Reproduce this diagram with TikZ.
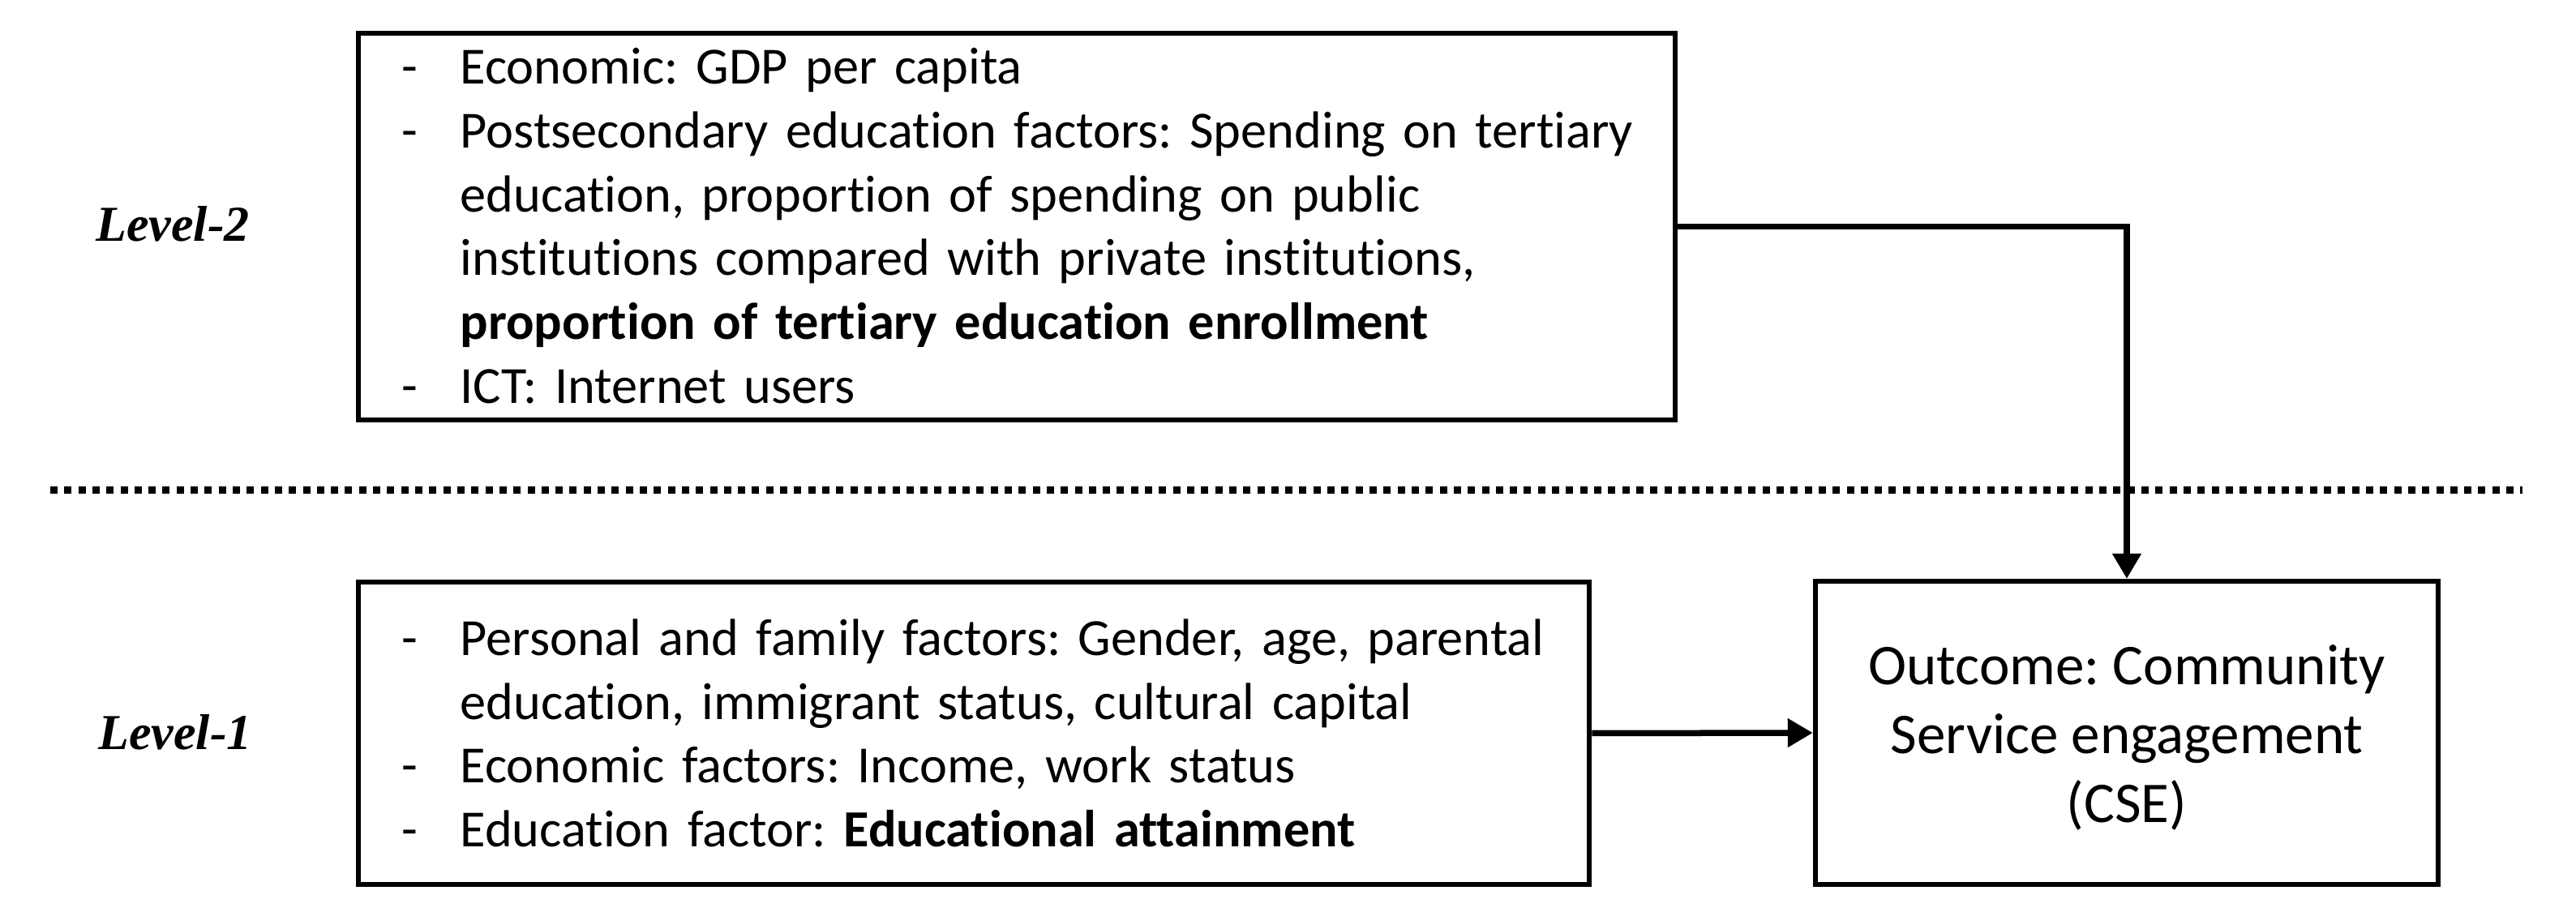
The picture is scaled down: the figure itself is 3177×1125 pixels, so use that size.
\documentclass[tikz,border=0pt]{standalone}
\usepackage{fontspec}
\setmainfont{Carlito}[Ligatures={NoCommon}]
\newfontfamily\levelfamily{Liberation Serif}
\usetikzlibrary{arrows.meta}
\frenchspacing
\hyphenpenalty=10000\relax
\tikzset{
  box/.style={draw=black, line width=0.06cm, rectangle, inner sep=0pt},
  itemtext/.style={inner sep=0pt, align=left, text width=16.5cm, anchor=base west,
    font=\fontsize{0.643cm}{0.786cm}\selectfont},
  outtext/.style={inner sep=0pt, align=center, font=\fontsize{0.71cm}{0.85cm}\selectfont},
  levellab/.style={inner sep=0pt, anchor=base, font=\levelfamily\bfseries\itshape\fontsize{0.62cm}{0.7cm}\selectfont},
  conn/.style={line width=0.075cm, -{Triangle[length=0.31cm, width=0.34cm]}},
  divider/.style={line width=0.09cm, dash pattern=on 0.09cm off 0.083cm}
}
\newcommand{\dashitem}{\makebox[0.72cm][l]{-}}
\newcommand{\contline}{\hspace*{0.72cm}}
\begin{document}
\begin{tikzpicture}[x=0.01cm, y=-0.01cm]
\useasboundingbox (0,0) rectangle (3177,1125);

% boxes
\node[box, minimum width=16.24cm, minimum height=4.77cm] (top) at (1254,279.5) {};
\node[box, minimum width=15.18cm, minimum height=3.73cm] (bot) at (1201,904.5) {};
\node[box, minimum width=7.68cm, minimum height=3.74cm] (out) at (2623,904) {};

% box texts
\node[outtext] (outlabel) at (2623,910) {Outcome: Community\\Service engagement\\(CSE)};

\node[itemtext] (toptext) at (495,104) {%
\dashitem Economic: GDP per capita\\
\dashitem Postsecondary education factors: Spending on tertiary\\
\contline education, proportion of spending on public\\
\contline institutions compared with private institutions,\\
\contline\textbf{proportion of tertiary education enrollment}\\
\dashitem ICT: Internet users};

\node[itemtext] (bottext) at (495,808.6) {%
\dashitem Personal and family factors: Gender, age, parental\\
\contline education, immigrant status, cultural capital\\
\dashitem Economic factors: Income, work status\\
\dashitem Education factor: \textbf{Educational attainment}};

% level labels
\node[levellab] (lev2) at (213,298) {Level-2};
\node[levellab] (lev1) at (216,925) {Level-1};

% divider
\coordinate (dl) at (62,605);
\coordinate (dr) at (3111,605);
\draw[divider] (dl) -- (dr);

% connectors
\draw[conn] (top.east) -| (out.north);
\draw[conn] (bot.east) -- (out.west);
\end{tikzpicture}
\end{document}
